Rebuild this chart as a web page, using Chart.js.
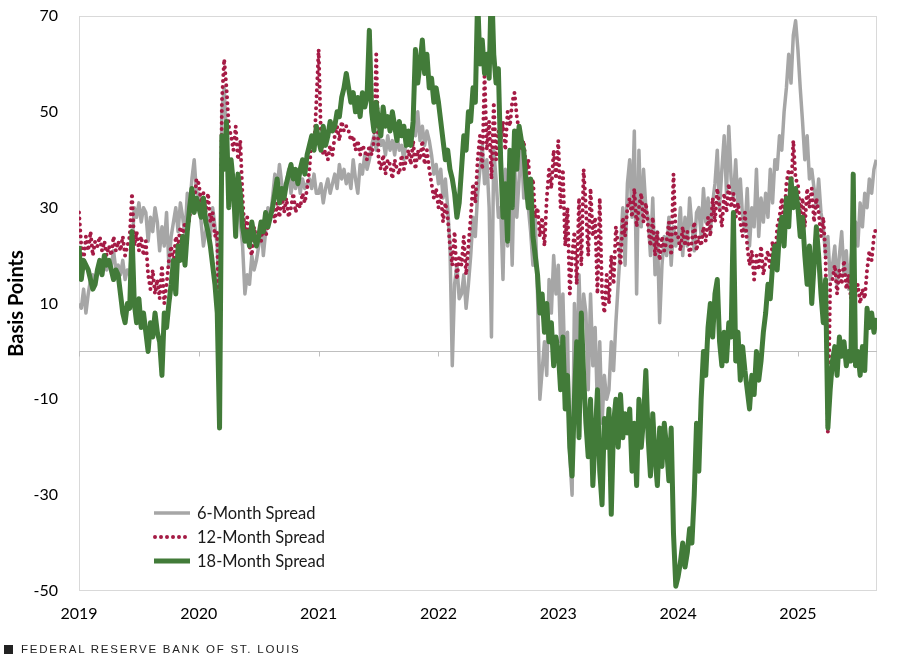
<!DOCTYPE html>
<html>
<head>
<meta charset="utf-8">
<script src="https://cdn.jsdelivr.net/npm/chart.js@4.4.1/dist/chart.umd.min.js"></script>
<style>
  html, body { margin: 0; padding: 0; background: #fff; }
  #wrap { position: relative; width: 909px; height: 659px; overflow: hidden; }
  #c { position: absolute; left: 0; top: 0; }
  #legend { position: absolute; left: 153px; top: 501px; font-family: Lato, "Open Sans", sans-serif; font-size: 16.5px; color: #1a1a1a; }
  #legend .row { height: 24px; display: flex; align-items: center; }
  #legend svg { margin-right: 6px; }
  #footer { position: absolute; left: 4px; top: 643px; font-family: "Liberation Sans", Arial, sans-serif; font-size: 11.5px; letter-spacing: 1.75px; color: #222; display: flex; align-items: center; }
  #footer .sq { display: inline-block; width: 9px; height: 9px; background: #222; margin-right: 8px; }
</style>
</head>
<body>
<div id="wrap">
  <canvas id="c" width="909" height="659"></canvas>
  <div id="legend"></div>
  <div id="footer"><span class="sq"></span><span>FEDERAL RESERVE BANK OF ST. LOUIS</span></div>
</div>
<script>
// ---- Data: weekly readings (basis points), week i of each year ----
const years = [2019, 2020, 2021, 2022, 2023, 2024, 2025];
const seriesNames = ["6-Month Spread", "12-Month Spread", "18-Month Spread"];
const yTicks = [-50, -30, -10, 10, 30, 50, 70];
const xTicks = [2019, 2020, 2021, 2022, 2023, 2024, 2025];

// 6-Month Spread
const m6_2019 = [10,9,13,8, 12,15,16,14, 17,19,18,20,17, 19,18,21,17, 18,16,19,15,17, 16,22,30,28, 31,27,30,29, 23,28,25,30, 27,21,26,22, 29,18,24,27,30, 25,31,28,24,33, 30,36,40,33];
const m6_2020 = [33,27,22,25, 28,24,30,26, 22,6,50,55,45,38, 34,36,30,33,27, 22,12,16,14,20,17,19, 22,27,20,25,30,28, 32,37,34,39,35,33, 35,38,33,36,34,37, 33,36,34,35, 36,34,37,33];
const m6_2021 = [33,35,31,34,36,33,35, 37,34,39,36,38,35, 37,34,40,36,33,39,37,41,38, 40, 43,45,42,46,43,44,41,45, 42,44,41,45,42,43,40,44, 46,43,48, 45,50,44,47,43,46,44, 41,37,39];
const m6_2022 = [35,38,32,36,30, 22,-3,14,18,11, 12,16,9,14, 20,28,24,33, 38,43,35,40,30,3,42,36,28, 30,15,38,22,34,18,40,28, 36,44,32,40,30, 25,18,28,12, -10,-4,2,-5, 15,8,20,12];
const m6_2023 = [18,2,12,-6,4, -22,-30, 10,-5,16,0,12, 8,-8,12,-3,5,-12,2, -15,-5,-10, -8,2,-4,6,14,22,30,18,35, 40,28,46,12,42,26,38,30, 28,20,32,16,25,6,18,24, 20,28,18,26,22];
const m6_2024 = [24,30,20,28,22,32,26,21,29, 30,24,34,27,32,25,31, 35,42,30,38,45,33,47,36, 32,40,30,36,28, 25,34,22,30,26,38,24,32,27, 33,28,38,31,40, 38,45,42,50,55, 62,56,66,69];
const m6_2025 = [63,55,48, 40,45,36,38, 34,30,36,29, 26,20,24,15, 18,22,14,20,25,16,21,13,19,24, 27,22,31,26,33, 30,36,33,38,40];

// 12-Month Spread
const m12_2019 = [29,22,19,24, 21,25,20,23, 22,24,21,23,20, 22,20,24,21, 23,21,24,20,22, 24,33,22,25, 21,24,20,23, 16,13,17,12, 15,11,18,10, 14,19,22,18,24, 22,26,24,27,25, 28,33,31,36];
const m12_2020 = [35,31,33,29, 33,27,29,24, 25,-12,52,61,55,47, 45,42,47,40,44, 32,24,28,22,20,26,23, 25,23,27,24,26,28, 30,27,31,28,33,29, 32,28,30,33,29,31, 30,33,31,34, 38,45,42,52];
const m12_2021 = [63,45,41,42,40,43,41, 45,47,44,48,46,47, 46,44,45,42,44,41,43,42,40, 43, 41,44,62,40,38,41,37,40, 39,36,40,38,37,41,38,40, 42,39,44, 38,42,40,44,39,42,38, 35,32,34];
const m12_2022 = [30,33,27,31,28, 22,18,25,15,20, 18,24,16,22, 28,35,31,40, 45,38,58,42,48,36,52,40,46, 44,48,42,50,47,52,54,49, 46,42,44,38,40, 32,36,28,30, 24,28,22,32, 38,34,42,36];
const m12_2023 = [44,30,38,22,30, 12,20, 25,14,32,18,38, 30,20,34,24,28,12,32, 12,8,16, 10,20,14,26,22,18,28,24,30, 32,28,34,26,30,33,27,31, 26,22,28,20,25,19,24,21, 23,27,20,37,24];
const m12_2024 = [24,21,26,22,25,20,23,27,21,24,22,26,23, 28,24,32,27,34,30,26,33,29, 35,30,33,28,31, 27,24,29,22, 18,21,15,20,17,22,16,19, 21,17,23,18,26, 28,32,27,35, 38,33,44,36];
const m12_2025 = [35,28,32,26,34, 30,34,27,32,29, 24,28,20, -17, 14, 15,18,12,17,14,19,13,16,11,15, 12,14,10,13,11, 17,21,19,24,26];

// 18-Month Spread
const m18_2019 = [22,15,19,18, 17,15,13,14, 17,19,16,20,18, 19,17,15,17, 16,12,8,6,10, 9,25,10,6, 11,5,8,4, 0,6,3,8, 4,2,-5,8, 5,10,14,19,12, 22,19,24,18,25, 30,34,29,32];
const m18_2020 = [30,28,32,27, 25,22,18,14, 8,-16,45,38,48,30, 40,35,24,37,33, 26,23,25,22,27,24,22, 24,27,25,29,26,28, 30,33,36,31,34,32, 35,37,39,36,38,35, 38,40,37,41, 43,45,42,47];
const m18_2021 = [44,42,47,43,45,48,46, 47,50,49,53,55,58, 55,52,54,50,53,49,54,51,53, 67, 50,46,52,48,45,51,47,49, 46,50,47,44,48,45,47,43, 46,43,48, 63,56,60,65,58,62,55, 57,52,55];
const m18_2022 = [52,48,44,40, 42,38,36, 33,28,31, 38,45,42,50, 48,55,52, 74, 60,65,58,62,57, 78, 62,56,59, 40,28,35,23, 42,30,46,38, 47,44,42, 35,30,36,24,20, 16,8,12, 4,10,2,6,-3,3];
const m18_2023 = [0,-8,3,-12,-5, -20,-26, -10,2,-18,8,-5, -15,-22,-10,-28,-18,-8,-25, -32,-14,-20, -12,-34,-15,-10,-20,-9,-18,-13,-17, -12,-25,-15,-28,-10,-20,-14,-4, -18,-26,-13,-22,-28,-16,-24,-15, -20,-27,-16,-38,-49];
const m18_2024 = [-47,-44,-40,-45, -42,-37,-40, -30,-15,-25, -10,0,-5, 5,10,3,12,15, 2,-3,4,-2,6, 3,29,-2,4,-6,1,-4,-8,-12, -5,-9,0,-6,-2,4, 8,14,11,18,22,17,25, 28,22,32,26,36,30,34];
const m18_2025 = [30,24,28,20, 14,22,10,18,26, 20,12,6,15, -16, -8, -2,1,-5,3,-1,2,-3,0,-2, 37, -3,0,-5,1,-4, 9,5,8,4,7];

// ---- Build point lists (x = year + week/52) ----
function build(arrs) {
  const out = [];
  arrs.forEach((arr, k) => {
    arr.forEach((v, i) => out.push({ x: years[k] + i / 52, y: v }));
  });
  return out;
}
const pts6 = build([m6_2019, m6_2020, m6_2021, m6_2022, m6_2023, m6_2024, m6_2025]);
const pts12 = build([m12_2019, m12_2020, m12_2021, m12_2022, m12_2023, m12_2024, m12_2025]);
const pts18 = build([m18_2019, m18_2020, m18_2021, m18_2022, m18_2023, m18_2024, m18_2025]);

const GRAY = '#A6A6A6';
const RED = '#A51B45';
const GREEN = '#427B39';
const FONT = 'Lato, "Open Sans", sans-serif';

// Frame, zero line and year tick marks on the zero line
const framePlugin = {
  id: 'frame',
  beforeDatasetsDraw(chart) {
    const { ctx, chartArea: a, scales: { x, y } } = chart;
    ctx.save();
    ctx.lineWidth = 1;
    ctx.strokeStyle = '#d9d9d9';
    ctx.strokeRect(Math.round(a.left) + 0.5, Math.round(a.top) + 0.5,
                   Math.round(a.right - a.left) - 1, Math.round(a.bottom - a.top) - 1);
    const y0 = Math.round(y.getPixelForValue(0)) + 0.5;
    ctx.strokeStyle = '#bfbfbf';
    ctx.beginPath();
    ctx.moveTo(a.left, y0); ctx.lineTo(a.right, y0);
    xTicks.forEach(t => {
      const px = Math.round(x.getPixelForValue(t)) + 0.5;
      ctx.moveTo(px, y0); ctx.lineTo(px, y0 + 5);
    });
    ctx.stroke();
    ctx.restore();
  }
};

new Chart(document.getElementById('c'), {
  type: 'line',
  data: {
    datasets: [
      { label: seriesNames[2], data: pts18, borderColor: GREEN, borderWidth: 5, pointRadius: 0, tension: 0, order: 1, borderJoinStyle: 'round' },
      { label: seriesNames[1], data: pts12, borderColor: RED, borderWidth: 4, borderDash: [0, 6], borderCapStyle: 'round', pointRadius: 0, tension: 0, order: 2 },
      { label: seriesNames[0], data: pts6, borderColor: GRAY, borderWidth: 3.5, pointRadius: 0, tension: 0, order: 3, borderJoinStyle: 'round' }
    ]
  },
  options: {
    responsive: false,
    animation: false,
    devicePixelRatio: 1,
    layout: { padding: { top: 16, right: 32, bottom: 0, left: 0 } },
    plugins: { legend: { display: false }, tooltip: { enabled: false } },
    scales: {
      x: {
        type: 'linear',
        min: 2019,
        max: 2025.66,
        grid: { display: false, drawTicks: false },
        border: { display: false },
        afterFit: s => { s.height = 68; s.paddingLeft = 0; s.paddingRight = 0; },
        afterBuildTicks: s => { s.ticks = xTicks.map(v => ({ value: v })); },
        ticks: {
          autoSkip: false,
          maxRotation: 0,
          padding: 13,
          color: '#000',
          font: { family: FONT, size: 16 },
          callback: v => String(v)
        }
      },
      y: {
        min: -50,
        max: 70,
        grid: { display: false, drawTicks: false },
        border: { display: false },
        afterFit: s => { s.width = 79; s.paddingTop = 0; s.paddingBottom = 0; },
        afterBuildTicks: s => { s.ticks = yTicks.map(v => ({ value: v })); },
        ticks: {
          padding: 21,
          color: '#000',
          font: { family: FONT, size: 16 }
        },
        title: {
          display: true,
          text: 'Basis Points',
          color: '#000',
          font: { family: FONT, size: 20, weight: 'bold' },
          padding: { top: 5, bottom: 0 }
        }
      }
    }
  },
  plugins: [framePlugin]
});

// HTML legend
const legendItems = [
  { name: seriesNames[0], svg: `<line x1="1" y1="6" x2="37" y2="6" stroke="${GRAY}" stroke-width="3.5"/>` },
  { name: seriesNames[1], svg: `<line x1="2" y1="6" x2="37" y2="6" stroke="${RED}" stroke-width="4" stroke-dasharray="0 6" stroke-linecap="round"/>` },
  { name: seriesNames[2], svg: `<line x1="1" y1="6" x2="37" y2="6" stroke="${GREEN}" stroke-width="5"/>` }
];
document.getElementById('legend').innerHTML = legendItems.map(it =>
  `<div class="row"><svg width="38" height="12">${it.svg}</svg><span>${it.name}</span></div>`).join('');
</script>
</body>
</html>
